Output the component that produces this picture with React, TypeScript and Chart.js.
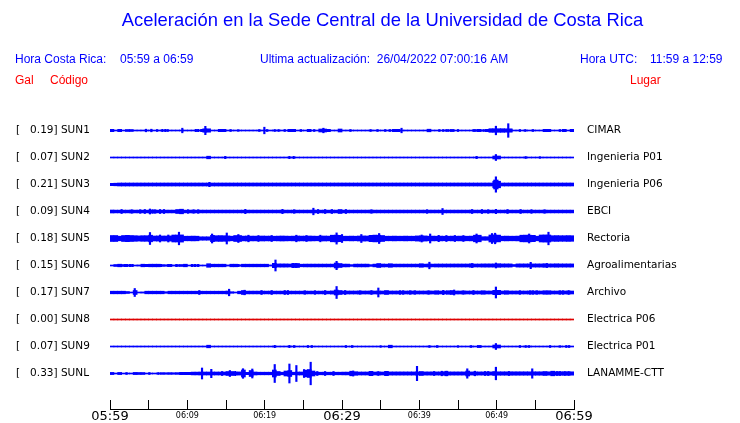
import { useEffect, useRef } from 'react';
import { Chart, registerables } from 'chart.js';

Chart.register(...registerables);

// ---------- text ----------
const TITLE = 'Aceleración en la Sede Central de la Universidad de Costa Rica';
const HEADER_LOCAL = ['Hora Costa Rica:', '05:59 a 06:59'];
const HEADER_UPDATE = 'Ultima actualización:  26/04/2022 07:00:16 AM';
const HEADER_UTC = ['Hora UTC:', '11:59 a 12:59'];
const COL_HEADS = ['Gal', 'Código', 'Lugar'];

// ---------- categories ----------
const CODES = ['SUN1', 'SUN2', 'SUN3', 'SUN4', 'SUN5', 'SUN6', 'SUN7', 'SUN8', 'SUN9', 'SUNL'];
const PEAKS = [0.19, 0.07, 0.21, 0.09, 0.18, 0.15, 0.17, 0.0, 0.07, 0.33];
const PLACES = ['CIMAR', 'Ingenieria P01', 'Ingenieria P06', 'EBCI', 'Rectoria', 'Agroalimentarias', 'Archivo', 'Electrica P06', 'Electrica P01', 'LANAMME-CTT'];

// x axis: minutes after 05:59
const TIME_LABELS = ['05:59', '06:09', '06:19', '06:29', '06:39', '06:49', '06:59'];
const BIN_MIN = 0.5; // envelope bin width, minutes

// ---------- trace envelopes (half amplitude per 30 s bin) ----------
const SUN1_BODY = [
  1.2, 0.5, 1.2, 0.5, 1, 1, 0.5, 0.5, 0.5, 0.5, 0.5, 0.5,
  0.5, 0.5, 0.5, 0.5, 0.5, 0.5, 0.5, 0.5, 0.5, 0.5, 0.5, 0.5,
  1.7, 1.7, 0.5, 0.5, 1.2, 1.2, 0.5, 0.5, 0.5, 0.5, 0.5, 0.5,
  0.5, 0.5, 0.5, 0.5, 0.5, 0.5, 0.5, 0.5, 0.5, 0.5, 1.2, 1.2,
  0.5, 0.5, 0.5, 1.2, 0.5, 0.5, 1.5, 1.5, 1.2, 0.5, 0.5, 1.5,
  0.5, 0.5, 0.5, 0.5, 0.5, 0.5, 0.5, 0.5, 0.5, 0.5, 0.5, 0.5,
  0.5, 1.2, 1.2, 0.5, 0.5, 0.5, 0.5, 0.5, 0.5, 0.5, 1.3, 0.5,
  0.5, 0.5, 0.5, 0.5, 1.1, 0.5, 0.5, 0.5, 0.5, 0.5, 0.5, 1.2,
  0.5, 1.2, 1.8, 1.8, 1.8, 1.8, 1.7, 1.7, 0.5, 0.5, 0.5, 0.5,
  0.5, 0.5, 0.5, 0.5, 1.2, 1.2, 0.5, 0.5, 0.5, 1.2, 0.5, 1.2,
];
const SUN1_SPIKES = [
  [4.66, 1.3], [5.34, 1.3], [6.1, 1], [6.77, 1.2], [7.16, 1.2], [7.46, 1], [9.35, 2.3], [11.1, 1.2],
  [11.4, 1.2], [11.8, 1.2], [12.0, 1.2], [12.33, 4.2], [15.6, 1], [16.6, 0.8], [19.3, 1], [19.96, 3.3],
  [20.3, 1], [21.3, 1], [21.8, 1], [22.6, 1], [24.7, 1], [26.4, 1], [27.6, 2.3], [31.1, 1], [33.7, 1],
  [34.6, 1], [35.6, 1], [36.2, 1], [37.7, 2.3], [42.6, 1], [43.1, 1], [43.5, 1], [43.75, 1], [45.0, 1],
  [47.0, 1], [47.2, 1], [47.5, 1], [48.3, 1], [49.9, 4.3], [51.5, 6.8], [51.9, 1], [53.0, 1], [53.7, 1],
  [54.7, 1], [58.2, 1], [59.9, 1],
];

const SUN2_BODY = [
  0.5, 0.5, 0.5, 0.5, 0.5, 0.5, 0.5, 0.5, 0.5, 0.5, 0.5, 0.5,
  0.5, 0.5, 0.5, 0.5, 0.5, 0.5, 0.5, 0.5, 0.5, 0.5, 0.5, 0.5,
  0.5, 1.3, 0.5, 0.5, 0.5, 0.5, 0.5, 0.5, 0.5, 0.5, 0.5, 0.5,
  0.5, 0.5, 0.5, 0.5, 0.5, 0.5, 0.5, 0.5, 0.5, 0.5, 0.5, 0.5,
  0.5, 0.5, 0.5, 0.5, 0.5, 0.5, 0.5, 0.5, 0.5, 0.5, 0.5, 0.5,
  0.5, 0.5, 0.5, 0.5, 0.5, 0.5, 0.5, 0.5, 0.5, 0.5, 0.5, 0.5,
  0.5, 0.5, 0.5, 0.5, 0.5, 0.5, 0.5, 0.5, 0.5, 0.5, 0.5, 0.5,
  0.5, 0.5, 0.5, 0.5, 0.5, 0.5, 0.5, 0.5, 0.5, 0.5, 0.5, 0.5,
  0.5, 0.5, 0.5, 1.5, 1.5, 0.5, 0.5, 0.5, 0.5, 0.5, 0.5, 0.5,
  0.5, 0.5, 0.5, 0.5, 0.5, 0.5, 0.5, 0.5, 0.5, 0.5, 0.5, 0.5,
];
const SUN2_SPIKES = [[14.9, 1.2], [23.2, 1.2], [23.75, 1.2], [47.4, 1.2], [49.9, 3], [53.75, 1], [55.6, 0.8]];

const SUN3_BODY = [
  1.2, 1.3, 1.5, 1.5, 1.5, 1.5, 1.5, 1.5, 1.5, 1.5, 1.5, 1.5,
  1.5, 1.5, 1.5, 1.5, 1.5, 1.5, 1.5, 1.5, 1.5, 1.5, 1.5, 1.5,
  1.5, 1.5, 1.5, 1.5, 1.5, 1.5, 1.5, 1.5, 1.5, 1.5, 1.5, 1.5,
  1.5, 1.5, 1.5, 1.5, 1.5, 1.5, 1.5, 1.5, 1.5, 1.5, 1.5, 1.5,
  1.5, 1.5, 1.5, 1.5, 1.5, 1.5, 1.5, 1.5, 1.5, 1.5, 1.5, 1.5,
  1.5, 1.5, 1.5, 1.5, 1.5, 1.5, 1.5, 1.5, 1.5, 1.5, 1.5, 1.5,
  1.5, 1.5, 1.5, 1.5, 1.5, 1.5, 1.5, 1.5, 1.5, 1.5, 1.5, 1.5,
  1.5, 1.5, 1.5, 1.5, 1.5, 1.5, 1.5, 1.5, 1.5, 1.5, 1.5, 1.5,
  1.5, 1.5, 1.5, 3.3, 3.3, 1.5, 1.5, 1.5, 1.5, 1.5, 1.5, 1.5,
  1.5, 1.5, 1.5, 1.5, 1.5, 1.5, 1.5, 1.5, 1.5, 1.5, 1.5, 1.5,
];
const SUN3_SPIKES = [[12.85, 2.2], [49.7, 4.5], [49.9, 7.7], [50.1, 4.5]];

const SUN4_BODY = [
  1.5, 1.4, 1.4, 1.4, 1.4, 1.4, 1.4, 1.4, 1.4, 1.4, 1.4, 1.4,
  1.4, 1.4, 1.4, 1.4, 1.4, 2.0, 2.3, 1.4, 1.4, 1.4, 1.4, 1.4,
  1.4, 1.4, 1.4, 1.4, 1.4, 1.4, 1.4, 1.4, 1.4, 1.4, 1.4, 1.4,
  1.4, 1.4, 1.4, 1.4, 1.4, 1.4, 1.4, 1.4, 1.4, 1.4, 1.4, 1.4,
  1.4, 1.4, 1.4, 1.4, 1.4, 1.4, 1.4, 1.4, 1.4, 1.4, 1.4, 2.0,
  1.4, 1.4, 1.4, 1.4, 1.4, 1.4, 1.4, 1.4, 1.4, 1.4, 1.4, 1.4,
  1.4, 1.4, 1.4, 1.4, 1.4, 1.4, 1.4, 1.4, 1.4, 1.4, 1.4, 1.4,
  1.4, 1.4, 1.4, 1.4, 1.4, 1.4, 1.4, 1.4, 1.4, 1.4, 1.4, 1.4,
  1.4, 1.4, 1.4, 1.4, 1.4, 1.4, 1.4, 1.4, 1.4, 1.4, 1.4, 1.4,
  1.4, 1.4, 1.4, 1.4, 1.4, 1.4, 1.4, 1.4, 1.4, 1.4, 1.4, 1.4,
];
const SUN4_SPIKES = [
  [1.5, 2], [2.8, 1.8], [3.9, 1.8], [4.5, 2], [5.17, 2.5], [5.5, 1.8], [5.8, 1.8], [6.47, 2], [6.98, 2],
  [10.1, 1.8], [10.8, 1.8], [11.4, 1.8], [17.5, 2.2], [22.3, 2.2], [23.8, 1.8], [26.3, 3.3], [26.9, 2],
  [27.8, 2], [28.7, 2], [30.5, 2], [33.8, 1.8], [41.0, 1.8], [43.0, 3], [46.8, 2], [48.1, 2], [48.9, 1.8],
  [49.9, 2.2], [51.4, 2], [53.1, 2], [54.5, 1.8], [56.2, 1.8],
];

const SUN5_BODY = [
  3.0, 3.0, 2.3, 3.0, 3.2, 3.0, 2.8, 2.6, 2.8, 2.8, 3.3, 2.5,
  2.6, 2.5, 2.5, 2.6, 3.5, 3.5, 3.6, 2.3, 2.3, 2.4, 2.3, 1.7,
  1.7, 1.7, 3.2, 2.8, 2.9, 2.8, 2.6, 2.3, 3.0, 3.0, 2.4, 2.5,
  2.4, 2.4, 2.3, 2.5, 2.4, 2.4, 2.3, 2.4, 2.5, 2.4, 2.3, 2.4,
  2.5, 2.4, 2.4, 2.5, 2.4, 2.3, 2.4, 2.5, 2.4, 3.3, 3.4, 3.2,
  2.3, 2.3, 2.4, 2.3, 2.5, 2.6, 2.5, 3.2, 3.4, 3.3, 3.0, 2.3,
  2.3, 2.4, 2.3, 2.3, 2.4, 2.3, 2.3, 2.6, 2.7, 2.6, 2.3, 2.4,
  2.3, 2.4, 2.3, 2.3, 2.4, 2.3, 2.4, 2.3, 2.3, 2.4, 3.3, 3.3,
  1.8, 1.8, 3.5, 3.6, 3.4, 2.3, 2.4, 2.3, 2.3, 2.4, 3.3, 3.4,
  3.3, 3.2, 2.3, 3.5, 3.6, 3.5, 2.8, 2.9, 2.8, 2.8, 2.9, 2.8,
];
const SUN5_SPIKES = [
  [5.17, 6], [6.47, 3.5], [7.54, 3.5], [8.92, 6.3], [13.2, 4.5], [15.1, 5.5], [16.6, 4], [17.9, 3.3],
  [19.2, 3], [20.9, 3], [24.1, 3.3], [25.4, 3], [27.2, 3.3], [29.3, 5.6], [30.0, 4], [32.5, 4], [34.8, 5],
  [40.3, 3.5], [41.4, 4.5], [42.5, 3.2], [43.5, 3], [44.6, 3], [45.7, 3], [47.4, 4.5], [49.4, 5],
  [49.8, 5.3], [54.2, 4.5], [56.7, 6.3],
];

const SUN6_BODY = [
  0.5, 1.0, 1.3, 1.0, 0.8, 0.8, 0.5, 0.6, 1.3, 1.2, 1.3, 1.3,
  1.3, 0.9, 0.8, 1.1, 0.6, 0.9, 1.0, 1.3, 0.5, 0.9, 0.8, 0.5,
  0.5, 1.8, 1.3, 1.3, 1.3, 1.3, 0.6, 1.3, 1.3, 0.8, 1.3, 1.3,
  1.3, 1.3, 1.3, 1.3, 1.3, 0.6, 2.2, 1.6, 1.6, 1.6, 1.5, 2.0,
  2.0, 1.3, 1.4, 1.4, 1.4, 1.4, 1.4, 1.4, 1.4, 1.4, 2.5, 2.0,
  1.4, 1.4, 0.9, 1.4, 1.4, 1.4, 1.4, 0.9, 1.4, 2.0, 1.5, 1.4,
  1.8, 1.4, 1.4, 1.4, 1.4, 1.4, 1.4, 1.4, 1.8, 1.4, 1.5, 1.4,
  1.5, 1.5, 1.5, 1.5, 1.5, 1.5, 1.5, 1.5, 1.5, 1.7, 1.5, 1.5,
  1.6, 1.6, 1.6, 1.6, 1.8, 1.6, 1.6, 1.6, 1.0, 1.6, 1.6, 1.6,
  1.6, 1.6, 1.6, 1.6, 1.8, 1.6, 1.6, 1.7, 1.6, 1.6, 1.6, 1.6,
];
const SUN6_SPIKES = [
  [1.94, 1.2], [2.2, 1.2], [2.6, 1.2], [2.9, 1.2], [6.6, 1.2], [7.54, 1.2], [7.85, 1.2], [8.6, 1.2],
  [10.6, 1.2], [11.0, 1.2], [11.4, 1.2], [16.6, 1.2], [21.4, 5.5], [23.7, 2.2], [24.1, 2], [29.3, 4.2],
  [41.3, 3.3], [46.8, 2], [49.9, 2.5], [54.4, 3.2], [56.5, 2],
];

const SUN7_BODY = [
  1.3, 1.3, 1.3, 1.3, 1.0, 0.5, 2.0, 0.5, 0.6, 1.3, 1.3, 1.3,
  1.3, 1.3, 0.8, 1.3, 1.3, 1.3, 1.3, 1.3, 1.3, 1.3, 1.3, 1.3,
  1.3, 1.3, 1.3, 1.3, 1.3, 1.3, 1.5, 0.8, 0.5, 1.3, 2.0, 1.4,
  1.4, 1.4, 1.4, 1.4, 1.4, 1.4, 1.4, 1.4, 1.4, 1.4, 1.4, 1.4,
  1.4, 1.4, 1.4, 1.4, 1.4, 1.4, 1.4, 1.4, 1.4, 1.6, 2.5, 2.0,
  1.5, 1.5, 1.5, 1.5, 1.5, 1.5, 1.5, 1.5, 1.5, 1.5, 1.5, 2.0,
  1.5, 1.5, 1.5, 1.5, 1.5, 1.5, 1.5, 1.5, 1.5, 1.5, 1.5, 1.5,
  1.8, 1.5, 1.5, 1.8, 2.0, 1.5, 1.5, 1.5, 1.5, 1.5, 1.5, 1.5,
  1.8, 1.5, 1.5, 2.2, 2.2, 1.5, 1.8, 1.5, 1.5, 1.5, 1.5, 1.5,
  1.5, 1.5, 1.5, 1.5, 1.8, 1.8, 1.5, 1.5, 1.5, 1.5, 1.5, 1.5,
];
const SUN7_SPIKES = [
  [3.2, 4], [11.55, 2], [15.4, 3.3], [17.4, 2.3], [19.6, 2], [20.9, 2], [22.6, 2], [23.0, 2], [25.2, 1.8],
  [26.5, 1.8], [27.8, 2], [29.3, 6], [30.4, 2], [32.3, 1.8], [33.8, 2], [34.7, 4.5], [37.5, 1.8],
  [37.9, 1.8], [38.8, 1.8], [39.4, 1.8], [41.2, 1.8], [43.1, 2.2], [44.5, 2.5], [45.7, 1.8], [47.0, 2],
  [49.9, 5.5], [50.4, 1.8], [53.0, 1.8], [54.3, 1.8], [54.7, 1.8], [55.2, 1.8], [58.2, 1.8], [58.6, 1.8],
  [59.3, 2],
];

const SUN8_BODY = [
  0.5, 0.5, 0.5, 0.5, 0.5, 0.5, 0.5, 0.5, 0.5, 0.5, 0.5, 0.5,
  0.5, 0.5, 0.5, 0.5, 0.5, 0.5, 0.5, 0.5, 0.5, 0.5, 0.5, 0.5,
  0.5, 0.5, 0.5, 0.5, 0.5, 0.5, 0.5, 0.5, 0.5, 0.5, 0.5, 0.5,
  0.5, 0.5, 0.5, 0.5, 0.5, 0.5, 0.5, 0.5, 0.5, 0.5, 0.5, 0.5,
  0.5, 0.5, 0.5, 0.5, 0.5, 0.5, 0.5, 0.5, 0.5, 0.5, 0.5, 0.5,
  0.5, 0.5, 0.5, 0.5, 0.5, 0.5, 0.5, 0.5, 0.5, 0.5, 0.5, 0.5,
  0.5, 0.5, 0.5, 0.5, 0.5, 0.5, 0.5, 0.5, 0.5, 0.5, 0.5, 0.5,
  0.5, 0.5, 0.5, 0.5, 0.5, 0.5, 0.5, 0.5, 0.5, 0.5, 0.5, 0.5,
  0.5, 0.5, 0.5, 0.5, 0.5, 0.5, 0.5, 0.5, 0.5, 0.5, 0.5, 0.5,
  0.5, 0.5, 0.5, 0.5, 0.5, 0.5, 0.5, 0.5, 0.5, 0.5, 0.5, 0.5,
];
const SUN8_SPIKES: number[][] = [];

const SUN9_BODY = [
  0.5, 0.5, 0.5, 0.5, 0.5, 0.5, 0.5, 0.5, 0.5, 0.5, 0.5, 0.5,
  0.5, 0.5, 0.5, 0.5, 0.5, 0.5, 0.5, 0.5, 0.5, 0.5, 0.5, 0.5,
  0.5, 1.3, 0.5, 0.5, 0.5, 0.5, 0.5, 0.5, 0.5, 0.5, 0.5, 0.5,
  0.5, 0.5, 0.5, 0.5, 0.5, 0.5, 0.5, 0.5, 0.5, 0.5, 0.5, 0.5,
  0.5, 0.5, 0.5, 0.5, 0.5, 0.5, 0.5, 0.5, 0.5, 0.5, 0.5, 0.5,
  0.5, 0.5, 0.5, 0.5, 0.5, 0.5, 0.5, 0.5, 0.5, 0.5, 0.5, 0.5,
  1.3, 0.5, 0.5, 0.5, 0.5, 0.5, 0.5, 0.5, 0.5, 0.5, 0.5, 0.5,
  0.5, 0.5, 0.5, 0.5, 0.5, 0.5, 0.5, 0.5, 0.5, 0.5, 0.5, 1.1,
  0.5, 0.5, 0.5, 1.5, 1.5, 0.5, 0.5, 0.5, 0.5, 0.5, 0.5, 0.5,
  0.5, 0.5, 0.5, 0.5, 0.5, 0.5, 0.5, 0.5, 0.5, 0.5, 0.5, 0.5,
];
const SUN9_SPIKES = [
  [21.3, 1.2], [23.2, 1.2], [23.8, 1], [25.6, 1], [26.1, 1], [30.5, 1], [31.3, 1], [35.0, 0.8], [41.3, 1],
  [42.3, 1], [45.0, 0.8], [46.7, 1], [49.9, 3], [53.0, 1], [53.75, 1], [54.2, 1], [56.9, 1], [58.2, 0.8],
  [59.0, 1], [59.35, 1],
];

const SUNL_BODY = [
  1.1, 0.5, 1.1, 0.5, 0.5, 0.5, 1.1, 1.0, 1.0, 0.5, 0.5, 0.5,
  0.5, 0.9, 0.8, 0.9, 0.8, 0.9, 1.2, 1.2, 1.2, 1.4, 1.4, 1.5,
  1.5, 1.5, 1.5, 1.5, 1.5, 1.5, 2.0, 2.0, 1.4, 1.6, 3.5, 1.2,
  3.0, 1.5, 1.3, 1.3, 1.3, 1.3, 3.5, 2.0, 1.3, 2.5, 3.0, 1.3,
  1.5, 1.5, 3.3, 4.0, 2.5, 1.3, 1.3, 1.3, 1.3, 1.3, 1.3, 1.3,
  1.4, 1.4, 2.3, 1.8, 1.5, 1.5, 1.5, 2.2, 1.5, 1.5, 1.5, 2.2,
  1.6, 1.6, 1.6, 1.6, 1.6, 1.6, 1.6, 1.6, 2.0, 1.6, 1.6, 1.6,
  1.6, 1.6, 1.8, 1.6, 1.6, 1.6, 1.6, 1.6, 2.5, 1.6, 1.6, 1.6,
  1.6, 1.6, 1.6, 2.0, 1.7, 1.7, 1.7, 1.7, 1.7, 1.7, 1.7, 1.7,
  1.7, 1.7, 1.7, 1.7, 2.0, 1.7, 2.3, 1.7, 1.7, 1.7, 1.7, 1.7,
];
const SUNL_SPIKES = [
  [2.15, 1], [5.1, 1], [6.25, 1], [11.9, 5.5], [13.1, 4.2], [14.5, 2], [15.5, 3], [16.2, 2.2], [17.2, 4.8],
  [18.4, 4.5], [21.3, 9], [23.2, 9.5], [24.1, 8], [25.1, 4], [25.95, 11.3], [26.8, 2], [27.8, 2], [28.9, 2],
  [31.45, 2.5], [34.7, 2], [39.7, 7.2], [41.9, 2], [42.9, 2.3], [43.4, 2.3], [43.6, 2.3], [46.2, 4.7],
  [47.2, 2.3], [48.5, 2], [48.9, 2], [49.9, 6.3], [51.6, 2], [54.6, 4.7], [57.8, 2], [58.2, 2], [58.8, 2],
  [59.3, 2],
];

const BODIES = [SUN1_BODY, SUN2_BODY, SUN3_BODY, SUN4_BODY, SUN5_BODY, SUN6_BODY, SUN7_BODY, SUN8_BODY, SUN9_BODY, SUNL_BODY];
const SPIKES = [SUN1_SPIKES, SUN2_SPIKES, SUN3_SPIKES, SUN4_SPIKES, SUN5_SPIKES, SUN6_SPIKES, SUN7_SPIKES, SUN8_SPIKES, SUN9_SPIKES, SUNL_SPIKES];

// ---------- style ----------
const BLUE = '#0000ff';
const RED = '#ff0000';
const TRACE_COLORS = [BLUE, BLUE, BLUE, BLUE, BLUE, BLUE, BLUE, '#dd0000', BLUE, BLUE];
const ROW_GAP = 27;
const Y_MAX = 20.5;
const Y_MIN = -278.5;
const LABEL_FONT = { family: '"DejaVu Sans", sans-serif', size: 10.5 };
const SANS = '"Liberation Sans", Arial, sans-serif';

const headerPlugin = {
  id: 'header',
  afterDraw(chart: any) {
    const ctx = chart.ctx;
    ctx.save();
    ctx.textBaseline = 'middle';
    ctx.fillStyle = BLUE;
    ctx.font = `18.4px ${SANS}`;
    ctx.textAlign = 'center';
    ctx.fillText(TITLE, 382.5, 21);
    ctx.font = `12px ${SANS}`;
    ctx.textAlign = 'left';
    ctx.fillText(HEADER_LOCAL[0], 15, 60);
    ctx.fillText(HEADER_LOCAL[1], 120, 60);
    ctx.fillText(HEADER_UPDATE, 260, 60);
    ctx.fillText(HEADER_UTC[0], 580, 60);
    ctx.fillText(HEADER_UTC[1], 650, 60);
    ctx.fillStyle = RED;
    ctx.fillText(COL_HEADS[0], 15, 81);
    ctx.fillText(COL_HEADS[1], 50, 81);
    ctx.fillText(COL_HEADS[2], 630, 81);
    ctx.restore();
  },
};

function rowTicks(scale: any) {
  scale.ticks = CODES.map((_, i) => ({ value: -ROW_GAP * i }));
}

function noScalePadding(s: any) {
  s.paddingTop = 0;
  s.paddingBottom = 0;
  s.paddingLeft = 0;
  s.paddingRight = 0;
}

export default function App() {
  const ref = useRef<HTMLCanvasElement>(null);

  useEffect(() => {
    if (!ref.current) return;
    const datasets: any[] = [];
    BODIES.forEach((body, i) => {
      const off = -ROW_GAP * i;
      datasets.push({
        type: 'bar',
        data: body.map((a, k) => ({ x: (k + 0.5) * BIN_MIN, y: [off - a, off + a] })),
        backgroundColor: TRACE_COLORS[i],
        borderWidth: 0,
        barThickness: 4,
        grouped: false,
      });
      if (SPIKES[i].length) {
        datasets.push({
          type: 'bar',
          data: SPIKES[i].map(([m, a]) => ({ x: m, y: [off - a, off + a] })),
          backgroundColor: TRACE_COLORS[i],
          borderWidth: 0,
          barThickness: 1.5,
          grouped: false,
        });
      }
    });

    const chart = new Chart(ref.current, {
      type: 'bar',
      data: { datasets },
      plugins: [headerPlugin],
      options: {
        animation: false,
        responsive: false,
        devicePixelRatio: 1,
        layout: { padding: { left: 16, right: 0, top: 110, bottom: 0 } },
        plugins: { legend: { display: false }, tooltip: { enabled: false }, title: { display: false } },
        scales: {
          x: {
            type: 'linear',
            position: 'bottom',
            min: 0,
            max: 60,
            offset: false,
            afterFit: (s: any) => { s.height = 14; noScalePadding(s); },
            grid: { display: true, drawOnChartArea: false, drawTicks: true, tickLength: -9, color: '#000', offset: false },
            border: { display: true, color: '#000', width: 1 },
            ticks: {
              stepSize: 5,
              autoSkip: false,
              maxRotation: 0,
              padding: 9,
              color: '#000',
              callback: (v: any) => (Number(v) % 10 === 0 ? TIME_LABELS[Number(v) / 10] : ''),
              font: (ctx: any) => {
                const v = ctx.tick ? ctx.tick.value : 0;
                return v % 30 === 0
                  ? { family: '"DejaVu Sans", sans-serif', size: 13, lineHeight: 1.2 }
                  : { family: '"DejaVu Sans", sans-serif', size: 8, lineHeight: 1.8 };
              },
            },
          },
          y: {
            type: 'linear',
            position: 'left',
            min: Y_MIN,
            max: Y_MAX,
            afterBuildTicks: rowTicks,
            afterFit: (s: any) => { s.width = 94; noScalePadding(s); },
            grid: { display: false },
            border: { display: false },
            ticks: {
              crossAlign: 'far',
              padding: 0,
              color: '#000',
              font: LABEL_FONT,
              callback: (v: any) => {
                const i = Math.round(-Number(v) / ROW_GAP);
                return `[   ${PEAKS[i].toFixed(2)}] ${CODES[i]}`;
              },
            },
          },
          y2: {
            type: 'linear',
            axis: 'y',
            position: 'right',
            min: Y_MIN,
            max: Y_MAX,
            afterBuildTicks: rowTicks,
            afterFit: (s: any) => { s.width = 166; noScalePadding(s); },
            grid: { display: false, drawTicks: false },
            border: { display: false },
            ticks: {
              crossAlign: 'near',
              padding: 13,
              color: '#000',
              font: LABEL_FONT,
              callback: (v: any) => PLACES[Math.round(-Number(v) / ROW_GAP)],
            },
          },
        },
      } as any,
    });
    return () => chart.destroy();
  }, []);

  return (
    <div style={{ position: 'absolute', left: 0, top: 0, width: 740, height: 423, background: '#fff' }}>
      <canvas ref={ref} width={740} height={423} style={{ display: 'block' }} />
    </div>
  );
}
